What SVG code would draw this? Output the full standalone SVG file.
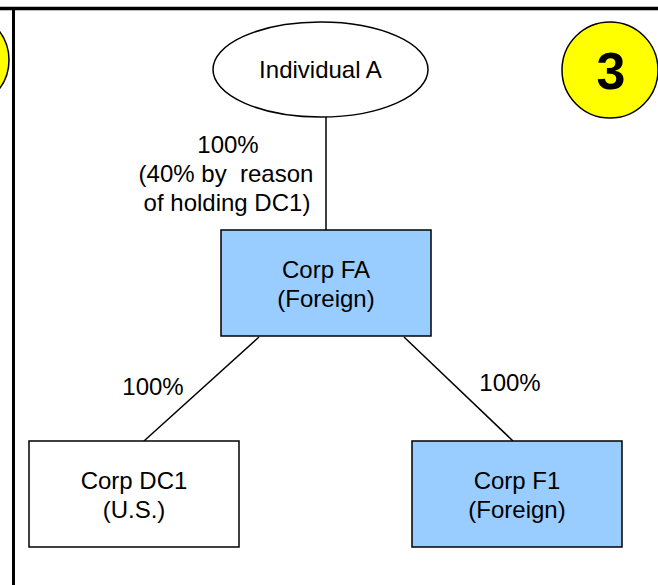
<svg xmlns="http://www.w3.org/2000/svg" width="658" height="585" viewBox="0 0 658 585">
<style>
text{font-family:"Liberation Sans",Arial,sans-serif;font-size:24px;fill:#000;text-anchor:middle}
.box{stroke:#000;stroke-width:1.5}
.blue{fill:#99CCFF}
.white{fill:#fff}
.conn line{stroke:#000;stroke-width:1.5}
.badge{fill:#FFFF00;stroke:#000;stroke-width:1.5}
</style>
<rect width="658" height="585" fill="#fff"/>
<line x1="0" y1="8.5" x2="658" y2="8.5" stroke="#000" stroke-width="3.5"/>
<line x1="13.5" y1="8" x2="13.5" y2="585" stroke="#000" stroke-width="3"/>
<g id="badge-left"><circle class="badge" cx="-39" cy="60" r="48"/></g>
<g id="badge-3"><circle class="badge" cx="610" cy="70" r="48"/><text x="611" y="89" style="font-size:52px;font-weight:bold">3</text></g>
<g class="conn" id="connectors">
<line x1="326" y1="117" x2="326" y2="230"/>
<line x1="259" y1="337" x2="144" y2="441"/>
<line x1="404" y1="337" x2="513" y2="441"/>
</g>
<g id="labels">
<text x="228" y="153">100%</text>
<text x="226" y="182">(40% by&#160; reason</text>
<text x="227" y="211">of holding DC1)</text>
<text x="153" y="395">100%</text>
<text x="510" y="391">100%</text>
</g>
<g id="individual-a"><ellipse class="box white" cx="320.5" cy="69.5" rx="107.5" ry="47.5"/><text x="320.5" y="78">Individual A</text></g>
<g id="corp-fa"><rect class="box blue" x="221" y="230" width="210" height="106"/><text x="326" y="278">Corp FA</text><text x="326" y="307">(Foreign)</text></g>
<g id="corp-dc1"><rect class="box white" x="29" y="441" width="210" height="106"/><text x="134" y="489">Corp DC1</text><text x="134" y="518">(U.S.)</text></g>
<g id="corp-f1"><rect class="box blue" x="412" y="441" width="210" height="106"/><text x="517" y="489">Corp F1</text><text x="517" y="518">(Foreign)</text></g>
</svg>
